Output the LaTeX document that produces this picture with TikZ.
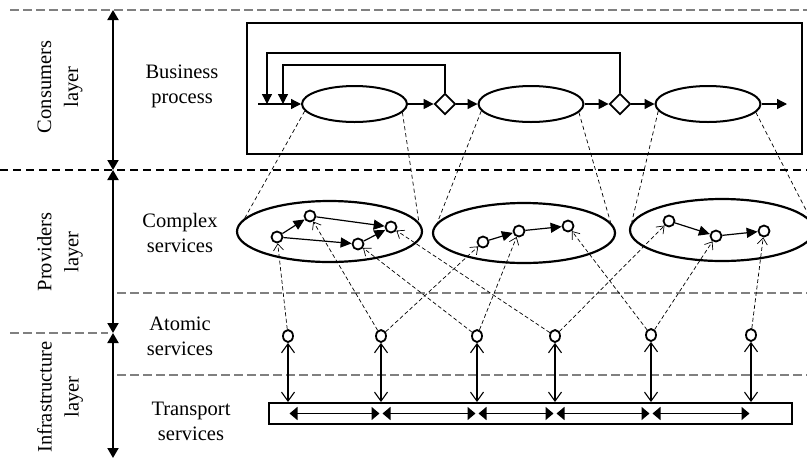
\documentclass[tikz,border=0pt]{standalone}
\usepackage{fontspec}
\setmainfont{Liberation Serif}
\usetikzlibrary{arrows.meta}
\usetikzlibrary{shapes.geometric}

\begin{document}
\begin{tikzpicture}[x=1pt,y=-1pt]
    \tikzstyle{sep}=[draw,black!50,line width=1.3pt,dash pattern=on 9pt off 4pt]
    \tikzstyle{sepdark}=[draw,black,line width=1.1pt,dash pattern=on 8pt off 5pt]
    \tikzstyle{rowtext}=[font=\fontsize{20.5}{25}\selectfont,align=center,inner sep=0]
    \tikzstyle{layertext}=[font=\fontsize{20.5}{27}\selectfont,align=center,inner sep=0,rotate=90]
    \tikzstyle{layerarrow}=[draw,line width=2pt,{Triangle[length=10pt,width=11pt]}-{Triangle[length=10pt,width=11pt]}]
    \tikzstyle{task}=[draw,ellipse,line width=2pt,minimum width=105pt,minimum height=36pt,inner sep=0]
    \tikzstyle{gate}=[draw,diamond,line width=1.8pt,minimum width=21pt,minimum height=21pt,inner sep=0]
    \tikzstyle{flow}=[draw,line width=1.3pt,-{Triangle[length=10pt,width=10pt]}]
    \tikzstyle{group}=[draw,ellipse,line width=2.2pt,inner sep=0]
    \tikzstyle{svc}=[draw,circle,line width=1.8pt,minimum size=11pt,inner sep=0]
    \tikzstyle{atom}=[draw,ellipse,line width=1.8pt,minimum width=10pt,minimum height=12pt,inner sep=0]
    \tikzstyle{hop}=[draw,line width=1.2pt,-{Triangle[length=11pt,width=10pt]}]
    \tikzstyle{maplink}=[draw,line width=0.7pt,dash pattern=on 4pt off 3pt]
    \tikzstyle{uplink}=[draw,line width=0.7pt,dash pattern=on 4pt off 2.5pt,-{Straight Barb[length=6.5pt,width=10pt]}]
    \tikzstyle{vlink}=[draw,line width=1.1pt,{Straight Barb[length=9pt,width=13pt]}-{Straight Barb[length=9pt,width=13pt]}]
    \tikzstyle{busarrow}=[draw,line width=1.6pt,{Triangle[length=8pt,width=13pt]}-{Triangle[length=8pt,width=13pt]},shorten <=1.5pt,shorten >=1.5pt]
    \clip (0,0) rectangle (807,459);
    \fill[white] (0,0) rectangle (807,459);
    \draw[sep] (10,10) -- (807,10);
    \draw[sepdark] (0,170) -- (807,170);
    \draw[sep] (117,293) -- (807,293);
    \draw[sep] (10,333) -- (108,333);
    \draw[sep] (117,375) -- (807,375);
    \coordinate (l0) at (113,10);
    \coordinate (l1) at (113,170);
    \coordinate (l2) at (113,333);
    \coordinate (l3) at (113,458);
    \draw[layerarrow] (l0) -- (l1);
    \draw[layerarrow] (l1) -- (l2);
    \draw[layerarrow] (l2) -- (l3);
    \node[layertext] (lconsumers) at (60,87) {Consumers\\layer};
    \node[layertext] (lproviders) at (60,252) {Providers\\layer};
    \node[layertext] (linfra) at (60,397) {Infrastructure\\layer};
    \node[rowtext] (tbusiness) at (182,86) {Business\\process};
    \node[rowtext] (tcomplex) at (180,233) {Complex\\services};
    \node[rowtext] (tatomic) at (180,336) {Atomic\\services};
    \node[rowtext] (ttransport) at (191,421) {Transport\\services};
    \node[draw,line width=2.2pt,minimum width=555pt,minimum height=131pt,inner sep=0] (bp) at (524.5,88.5) {};
    \node[task] (e1) at (354.5,104) {};
    \node[gate] (d1) at (445,104) {};
    \node[task] (e2) at (531,104) {};
    \node[gate] (d2) at (620,104) {};
    \node[task] (e3) at (708,104) {};
    \coordinate (start) at (258,104);
    \coordinate (in1) at (283,104);
    \coordinate (in2) at (267,104);
    \coordinate (finish) at (787,104);
    \draw[flow] (start) -- (e1);
    \draw[flow] (e1) -- (d1);
    \draw[flow] (d1) -- (e2);
    \draw[flow] (e2) -- (d2);
    \draw[flow] (d2) -- (e3);
    \draw[flow] (e3) -- (finish);
    \draw[flow] (d1.north) |- (283,65) -- (in1);
    \draw[flow] (d2.north) |- (267,53) -- (in2);
    \node[group,minimum width=185pt,minimum height=61pt] (ga) at (329.5,231.5) {};
    \node[group,minimum width=182pt,minimum height=60pt] (gb) at (524,233) {};
    \node[group,minimum width=184pt,minimum height=62pt] (gc) at (722,230) {};
    \node[svc] (a1) at (277,237) {};
    \node[svc] (a2) at (310,216) {};
    \node[svc] (a3) at (358,244) {};
    \node[svc] (a4) at (391,227) {};
    \node[svc] (b1) at (483,242) {};
    \node[svc] (b2) at (519,231) {};
    \node[svc] (b3) at (568,226) {};
    \node[svc] (c1) at (669,221) {};
    \node[svc] (c2) at (716,236) {};
    \node[svc] (c3) at (764,231) {};
    \draw[hop] (a1) -- (a2);
    \draw[hop] (a2) -- (a4);
    \draw[hop] (a1) -- (a3);
    \draw[hop] (a3) -- (a4);
    \draw[hop] (b1) -- (b2);
    \draw[hop] (b2) -- (b3);
    \draw[hop] (c1) -- (c2);
    \draw[hop] (c2) -- (c3);
    \draw[maplink] (e1.188) -- (ga.171);
    \draw[maplink] (e1.350) -- (ga.6);
    \draw[maplink] (e2.188) -- (gb.173);
    \draw[maplink] (e2.350) -- (gb.7);
    \draw[maplink] (e3.188) -- (gc.175);
    \draw[maplink] (e3.350) -- (gc.5);
    \node[atom] (s1) at (288,336) {};
    \node[atom] (s2) at (381,336) {};
    \node[atom] (s3) at (477,336) {};
    \node[atom] (s4) at (555,336) {};
    \node[atom] (s5) at (651,335) {};
    \node[atom] (s6) at (751,335) {};
    \draw[uplink] (s1) -- (a1);
    \draw[uplink] (s2) -- (a2);
    \draw[uplink] (s2) -- (b1);
    \draw[uplink] (s3) -- (a3);
    \draw[uplink] (s3) -- (b2);
    \draw[uplink] (s4) -- (a4);
    \draw[uplink] (s4) -- (c1);
    \draw[uplink] (s5) -- (b3);
    \draw[uplink] (s5) -- (c2);
    \draw[uplink] (s6) -- (c3);
    \node[draw,line width=2pt,minimum width=523pt,minimum height=21pt,inner sep=0] (bar) at (530.5,413.5) {};
    \foreach \i in {1,...,6} {
        \draw[vlink] (s\i) -- (s\i |- bar.north);
        \coordinate (m\i) at (s\i |- bar.center);
    }
    \draw[busarrow] (m1) -- (m2);
    \draw[busarrow] (m2) -- (m3);
    \draw[busarrow] (m3) -- (m4);
    \draw[busarrow] (m4) -- (m5);
    \draw[busarrow] (m5) -- (m6);
\end{tikzpicture}
\end{document}
